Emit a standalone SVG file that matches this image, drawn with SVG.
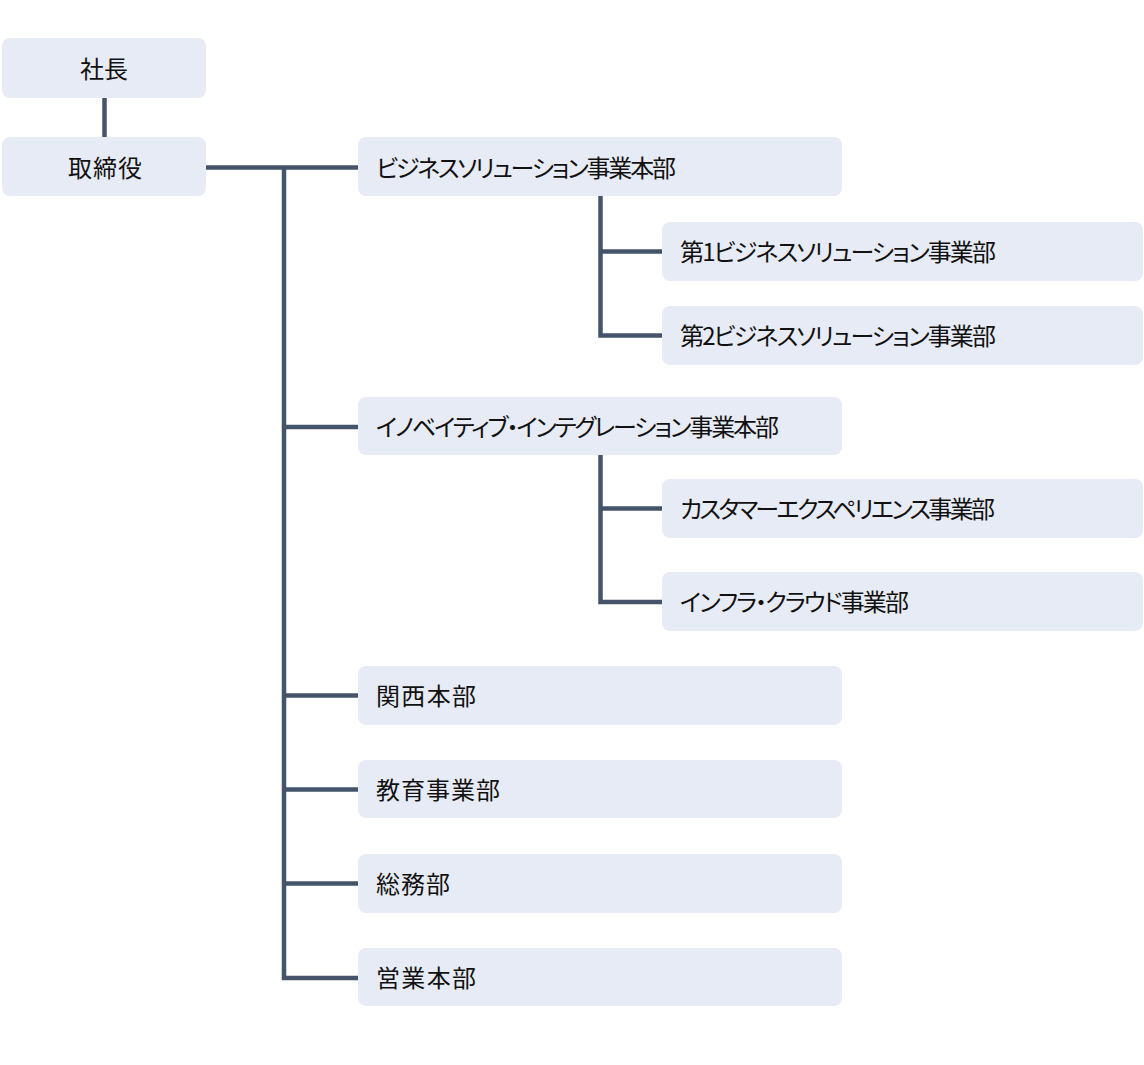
<svg xmlns="http://www.w3.org/2000/svg" width="1144" height="1065" viewBox="0 0 1144 1065">
<style>
.n{fill:#E7EBF5}
.t{font-family:"Noto Sans CJK JP","Liberation Sans",sans-serif;font-size:24px;fill:#111111;dominant-baseline:central;font-feature-settings:"palt"}
.c{text-anchor:middle}
.l{fill:none;stroke:#44546A;stroke-width:4.5}
</style>
<rect width="1144" height="1065" fill="#ffffff"/>
<g id="connectors">
<line class="l" x1="104.5" y1="98" x2="104.5" y2="137"/>
<line class="l" x1="206" y1="167.5" x2="358" y2="167.5"/>
<polyline class="l" points="284,167.5 284,978 358,978"/>
<line class="l" x1="284" y1="427" x2="358" y2="427"/>
<line class="l" x1="284" y1="695.5" x2="358" y2="695.5"/>
<line class="l" x1="284" y1="789.5" x2="358" y2="789.5"/>
<line class="l" x1="284" y1="883.5" x2="358" y2="883.5"/>
<polyline class="l" points="600.5,196 600.5,335.5 662,335.5"/>
<line class="l" x1="600.5" y1="251.5" x2="662" y2="251.5"/>
<polyline class="l" points="600.5,455 600.5,602 662,602"/>
<line class="l" x1="600.5" y1="508.5" x2="662" y2="508.5"/>
</g>
<g id="n-president"><rect class="n" x="2" y="38" width="204" height="60" rx="8"/><text class="t c" x="104" y="67" textLength="48" lengthAdjust="spacing">社長</text></g>
<g id="n-board"><rect class="n" x="2" y="137" width="204" height="59" rx="8"/><text class="t c" x="105" y="166" textLength="74" lengthAdjust="spacing">取締役</text></g>
<g id="n-bs"><rect class="n" x="358" y="137" width="484" height="59" rx="8"/><text class="t" x="376" y="166" textLength="300" lengthAdjust="spacing">ビジネスソリューション事業本部</text></g>
<g id="n-bs1"><rect class="n" x="662" y="222" width="481" height="59" rx="8"/><text class="t" x="680" y="250.5" textLength="316" lengthAdjust="spacing">第1ビジネスソリューション事業部</text></g>
<g id="n-bs2"><rect class="n" x="662" y="306" width="481" height="59" rx="8"/><text class="t" x="680" y="334.5" textLength="316" lengthAdjust="spacing">第2ビジネスソリューション事業部</text></g>
<g id="n-ii"><rect class="n" x="358" y="397" width="484" height="58" rx="8"/><text class="t" x="376" y="425.5" textLength="403" lengthAdjust="spacing">イノベイティブ・インテグレーション事業本部</text></g>
<g id="n-cx"><rect class="n" x="662" y="479" width="481" height="59" rx="8"/><text class="t" x="680" y="507.5" textLength="315" lengthAdjust="spacing">カスタマーエクスペリエンス事業部</text></g>
<g id="n-ic"><rect class="n" x="662" y="572" width="481" height="59" rx="8"/><text class="t" x="680" y="600.5" textLength="229" lengthAdjust="spacing">インフラ・クラウド事業部</text></g>
<g id="n-kansai"><rect class="n" x="358" y="666" width="484" height="59" rx="8"/><text class="t" x="376" y="694.5" textLength="100" lengthAdjust="spacing">関西本部</text></g>
<g id="n-edu"><rect class="n" x="358" y="760" width="484" height="58" rx="8"/><text class="t" x="376" y="788" textLength="124" lengthAdjust="spacing">教育事業部</text></g>
<g id="n-ga"><rect class="n" x="358" y="854" width="484" height="59" rx="8"/><text class="t" x="376" y="882.5" textLength="74" lengthAdjust="spacing">総務部</text></g>
<g id="n-sales"><rect class="n" x="358" y="948" width="484" height="58" rx="8"/><text class="t" x="376" y="976" textLength="100" lengthAdjust="spacing">営業本部</text></g>
</svg>
